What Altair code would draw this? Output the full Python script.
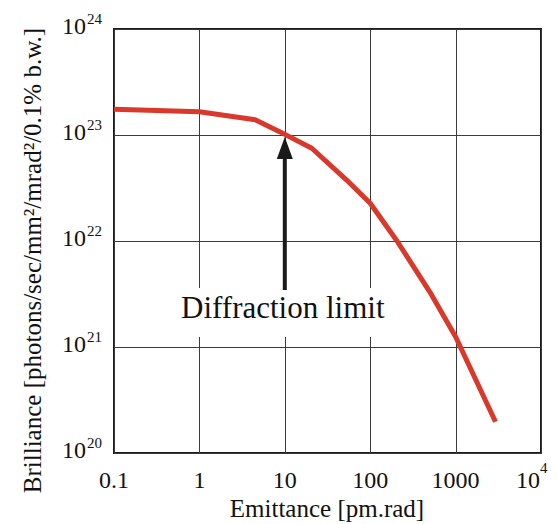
import altair as alt
import pandas as pd

# Curve data
emittance = [0.1, 1, 4.5, 8.8, 20.7, 53, 100, 206, 500, 1000, 2930]
brilliance = [1.75e23, 1.66e23, 1.39e23, 1.07e23, 7.5e22, 3.76e22, 2.27e22, 1.0e22, 3.3e21, 1.25e21, 1.97e20]

# Tick labels
x_ticks = [0.1, 1, 10, 100, 1000, 10000]
x_tick_labels = ["0.1", "1", "10", "100", "1000"]
y_ticks = [1e20, 1e21, 1e22, 1e23, 1e24]
y_tick_exps = ["20", "21", "22", "23", "24"]

# Annotation
annot_x = [10]
annot_text = ["Diffraction limit"]

FONT = "Liberation Serif"
W, H = 427, 424

curve = pd.DataFrame({"e": emittance, "b": brilliance})
ylab = pd.DataFrame({"e": [0.1] * len(y_ticks), "b": y_ticks, "exp": y_tick_exps})
xlab = pd.DataFrame({"e": x_ticks[:-1], "b": [1e20] * 5, "lab": x_tick_labels})
xlast = pd.DataFrame({"e": [x_ticks[-1]], "b": [1e20], "lab": ["10"], "exp": ["4"]})
ann = pd.DataFrame({"e": annot_x, "b": [1e22], "t": annot_text})

xscale = alt.Scale(type="log", domain=[0.1, 10000], nice=False)
yscale = alt.Scale(type="log", domain=[1e20, 1e24], nice=False)

xaxis = alt.Axis(values=x_ticks, labels=False, ticks=False, domain=False, grid=True,
                 gridColor="#3a3a3a", gridWidth=1, gridOpacity=1,
                 title="Emittance [pm.rad]", titleFont=FONT, titleFontSize=25,
                 titleFontWeight="normal", titleColor="#111",
                 titleBaseline="alphabetic", titleY=63, titleX=W / 2 - 1)
yaxis = alt.Axis(values=y_ticks, labels=False, ticks=False, domain=False, grid=True,
                 gridColor="#3a3a3a", gridWidth=1, gridOpacity=1,
                 title="Brilliance [photons/sec/mm²/mrad²/0.1% b.w.]", titleFont=FONT,
                 titleFontSize=25, titleFontWeight="normal", titleColor="#111",
                 titleAngle=270, titleAlign="center", titleBaseline="alphabetic",
                 titleX=-74, titleY=231)

X = alt.X("e:Q", scale=xscale, axis=xaxis)
Y = alt.Y("b:Q", scale=yscale, axis=yaxis)

line = alt.Chart(curve).mark_line(color="#d9382a", strokeWidth=5, strokeCap="butt",
                                  strokeJoin="round", clip=False).encode(x=X, y=Y)

# white box behind the annotation text
box = alt.Chart(ann).mark_rect(color="white").encode(
    x=alt.value(61), x2=alt.value(277), y=alt.value(259), y2=alt.value(308)
)

shaft = alt.Chart(ann).mark_rule(color="#1a1a1a", strokeWidth=4).encode(
    x=X, y=alt.value(128), y2=alt.value(261),
)
head = alt.Chart(ann).mark_point(
    shape="M0,-1L0.727,1L-0.727,1Z", size=484, filled=True, color="#1a1a1a", opacity=1
).encode(x=X, y=alt.value(119))
label = alt.Chart(ann).mark_text(font=FONT, fontSize=31, color="#111", align="center",
                                 baseline="alphabetic", dx=-2).encode(
    x=X, y=alt.value(289), text="t:N",
)

y10 = alt.Chart(ylab).mark_text(font=FONT, fontSize=24, color="#111", align="right",
                                baseline="alphabetic", dy=5).encode(
    y=Y, x=alt.value(-28), text=alt.value("10")
)
yexp = alt.Chart(ylab).mark_text(font=FONT, fontSize=15, color="#111", align="left",
                                 baseline="alphabetic", dy=-5.5).encode(
    y=Y, x=alt.value(-27), text="exp:N"
)
xl = alt.Chart(xlab).mark_text(font=FONT, fontSize=24, color="#111", align="center",
                               baseline="alphabetic").encode(
    x=X, y=alt.value(H + 35), text="lab:N"
)
xl10 = alt.Chart(xlast).mark_text(font=FONT, fontSize=24, color="#111", align="right",
                                  baseline="alphabetic", dx=-1).encode(
    x=X, y=alt.value(H + 35), text="lab:N"
)
xlexp = alt.Chart(xlast).mark_text(font=FONT, fontSize=15, color="#111", align="left",
                                   baseline="alphabetic", dx=-1, dy=-15).encode(
    x=X, y=alt.value(H + 35), text="exp:N"
)

chart = alt.layer(line, box, shaft, head, label, y10, yexp, xl, xl10, xlexp).properties(
    width=W, height=H,
    autosize=alt.AutoSizeParams(type="none"),
    padding={"left": 106, "top": 21, "right": 8, "bottom": 70},
    background="white",
).configure_view(stroke="#1a1a1a", strokeWidth=2)

chart.save("out.html", embed_options={"renderer": "svg", "actions": False})
